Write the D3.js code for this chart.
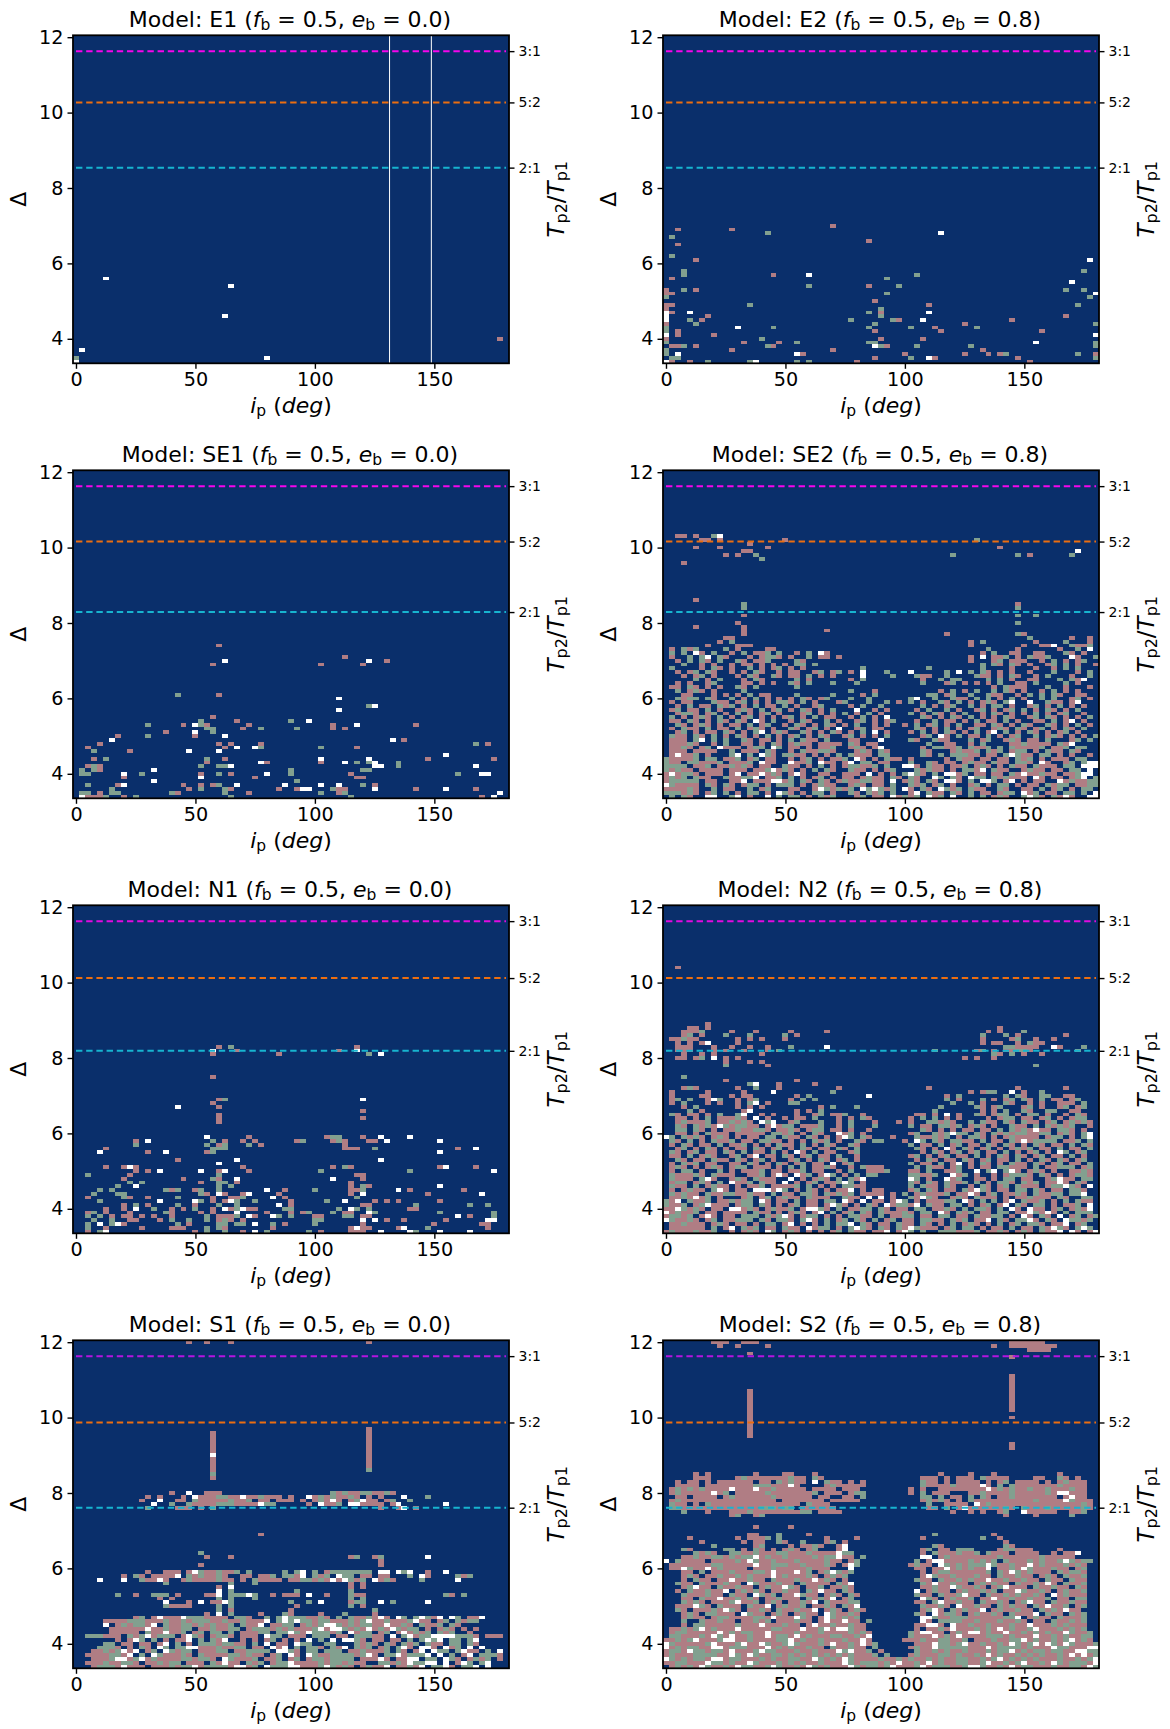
<!DOCTYPE html>
<html>
<head>
<meta charset="utf-8">
<script src="https://cdn.jsdelivr.net/npm/d3@7"></script>
<style>
  html, body { margin: 0; padding: 0; background: #fff; }
  svg { display: block; }
  text { font-family: "DejaVu Sans", sans-serif; fill: #000; }
</style>
</head>
<body>
<script>
// every cell sits on a 2.5 deg x 0.1 grid, col 0 = 0 deg, row 0 = 3.4
var ipStep = 2.5, deltaStart = 3.4, deltaStep = 0.1;

var modelNames = ["E1", "E2", "SE1", "SE2", "N1", "N2", "S1", "S2"];
var binaryEcc = ["0.0", "0.8", "0.0", "0.8", "0.0", "0.8", "0.0", "0.8"];
var res3to1 = [11.63, 11.63, 11.63, 11.63, 11.63, 11.63, 11.63, 11.63];
var res5to2 = [10.27, 10.27, 10.16, 10.16, 10.12, 10.12, 9.87, 9.87];
var res2to1 = [8.54, 8.54, 8.29, 8.29, 8.19, 8.19, 7.61, 7.61];
var color3to1 = ["#f505ec", "#f505ec", "#f505ec", "#f505ec", "#e00ae0", "#e00ae0", "#b414e0", "#b414e0"];
var xTicks = [0, 50, 100, 150];
var yTicks = [4, 6, 8, 10, 12];
var kindColor = { p: "#b07d84", g: "#82a08f", w: "#ffffff" };

// sparse panels: "row kind+col kind+col ..."
var cellsE1 = ["22 w5", "20 w26", "12 w25", "6 p71", "3 w1", "1 g0 w32", "0 w0"];
var linesE1 = [131.25, 148.75];

var cellsE2 = [
  "36 p28", "35 p2 p11", "34 g17 w46", "33 g1", "32 p34", "31 p2", "28 g1", "27 p5 w71",
  "24 g3 g70", "23 g3 p18 w24 g42", "22 p1 g37", "21 w68", "20 g24 p34 g39",
  "19 p0 g3 p5 g67 g70", "18 p0 p1 g37 w72", "17 g0 g71", "16 p35", "15 p0 p1 g14 p44 g69",
  "14 p0 g36", "13 w0 p1 w4 g34 p36 w44", "12 w0 p7 g36 p67",
  "11 w0 g4 p6 g31 g38 p39 w43 p58", "10 p0 g5 g35 p50 g72",
  "9 g0 w12 g18 g34 g41 p45 g52", "8 g0 p2 p35 p46 p63", "7 w0 p2 p8 w72", "6 p0 g16 p36 p43",
  "5 g0 p13 p19 g22 g34 g35 w62 g72", "4 p1 p2 g3 p5 g17 p18 w35 g36 p37 g42 g51 g72",
  "3 g0 p11 p28 p53", "2 g0 w2 w22 p23 p40 p50 p54 p56 g57 g69 p72",
  "1 g1 g2 p35 g41 w44 p45 p59 g72", "0 w0 p1 p4 g7 g14 w15 g22 g24 p32 p61"
];

var cellsSE1 = [
  "40 p24", "37 p45", "36 w25 w49 p52", "35 p23 p41 p48", "27 g17 p24", "26 w44", "24 g49 w50", "23 w44",
  "21 p23", "20 g21 p27 g36 w39", "19 g12 p18 w20 g21 p22 p29 p43 w47 p57",
  "18 g22 g23 p28 g31 g37 p43 p45", "17 p15 w20 g23", "16 p7 g12 p20 w25", "15 w6 w53 p55",
  "14 p4 p24 p26 p31 g67 p69", "13 p2 p25 w27 w30 g31 g41 p47", "12 g3 p9 w19 w24", "11 w62",
  "10 p3 g5 g22 p25 w41 w49 p59 p70", "9 p22 w31 p32 p41 w45 g47 g49 w50 g54",
  "8 p2 g3 p4 g21 g24 g25 w26 w50 w51 g54 w67", "7 g1 g3 p4 w13 g36 g48 g49",
  "6 g1 g2 w8 g11 p21 g24 p26 w32 g36 p46 g64 w68 w69", "5 p8 w21 p30 p47 p48", "4 w13 g37",
  "3 g2 p7 w8 p18 p21 p23 g24 w27 w35 w41 w44 g48 p50",
  "2 g6 p19 g21 g25 p26 p34 p37 w38 w39 g43 p44 p45 w50 p57 w62 p67",
  "1 g1 g2 p4 g6 g7 g16 p17 g25 p29 g41 p44 g45 w71",
  "0 w1 p2 p3 p4 g5 p8 g10 g26 g46 p68 w70"
];

var cellsN1 = [
  "49 p24 g26 p47", "48 w23 p27 p44 w47", "47 p23 p34 g49 w51", "41 p23", "35 p24 g25 w48", "34 p23",
  "33 w17 p24", "32 p48", "31 p24", "30 p24 p48", "29 p24",
  "25 w22 p29 p42 g43 g44 p48 w51 w56",
  "24 p10 w12 g23 p25 p28 p30 p37 g38 p43 g44 p45 p49 p50 w52 w61",
  "23 g10 g22 p24 g25 g29 p31 p45", "22 p5 g23 g24 g25 p45 p46 p47 g50 p64 w67",
  "21 w4 p12 w15 p22 g23 w61", "19 p17 w27 w51", "18 w24",
  "17 p5 p8 w9 p10 p28 p43 g45 p46 p61 w62 p67", "16 p10 p12 w14 w21 p24 w25 p29 g41 g56 w70",
  "15 g2 p9 g24 p47 p48", "14 p8 p18 g23 p24 w27 w43 p48", "13 g9 g11 p21 g24 g25 p27 p46",
  "12 g7 w10 g24 g26 p46 g48 p49 w61",
  "11 g4 g6 g15 p16 g17 p20 g21 g24 w32 p35 g40 p46 p47 g48 w54 p56 p65",
  "10 g3 g7 g8 g21 p22 w24 p25 p28 w29 p34 p46 w48 p59 w68",
  "9 p2 g8 p9 p12 g17 p23 p26 p27 g28 w33 p35 g47",
  "8 g4 w14 w20 g21 p23 p25 w26 g27 g30 p36 g42 w45 p50 p52 p54 p61",
  "7 p8 g10 p12 g17 p20 g24 g27 w34 p36 p48 p49 g57 g66 g69",
  "6 p5 p8 w10 g13 p16 p18 g20 p23 w25 p26 g27 w28 p29 p30 g35 g36 g44 w46 g47 g49 p56 p57",
  "5 p2 g3 p5 p9 g15 p16 p21 p23 w27 p32 p36 p38 g39 g43 p45 p46 w49 g50 g61 g70",
  "4 g2 g4 p6 p8 p9 p11 p13 p16 g22 p24 p25 p26 g27 w29 p30 w33 g34 g36 p40 p41 g45 g46 p48 p49 w64 p66 g70",
  "3 g3 g6 p9 p10 p14 g16 g19 g22 p24 g25 p26 p28 g40 g41 w48 w50 p52 p55 p62 w69 w70",
  "2 g2 w4 g6 w7 p8 g17 p19 g24 g25 g27 g28 w30 g33 p35 g40 p48 p60 p68 p69",
  "1 g2 p5 p11 p16 p17 p18 g22 g24 p25 p33 p46 w47 p48 p49 p54 w55 g59 p69",
  "0 p2 g4 w5 p20 g22 g25 p28 w30 g32 g39 p41 p46 p47 p48 w51 w56 g57 w61 w66"
];

// upper parts of the dense panels
var cellsSE2Top = [
  "69 p2 p3 p5 g8 w9", "68 p6 p7 p9 p20 g52", "67 p14", "66 p5 p9 p17 p56", "65 p13 p14 w69",
  "64 p10 p12 g15 g48 g59 p61 g68", "63 g16", "62 p3", "52 p5", "51 g13 p59", "50 g13 g59",
  "48 p13 g59 g62", "46 p12 g59", "45 p5 p13", "44 p13 p27", "43 p13 p47 g59 p60",
  "42 p10 p11 g61 p68 p71", "41 p9 g11 p51 g53 p62 g67 p71",
  "40 p7 p12 p13 p14 p51 p60 p63 p64 w65 g68 p69 p70 g71",
  "39 p1 g3 p4 g5 g10 p12 p17 p18 g54 p59 p66 g69 w71"
];
var cellsN2Top = [
  "70 p2", "55 p7", "54 p4 p5 p7 p56", "53 p3 p4 p5 g6 p11 p15 p21 p27 p54 p56 g60",
  "52 p3 g4 p6 g10 g14 g20 p22 g53 g57 p59 p67",
  "51 p1 p2 g3 p4 p5 p12 p14 p16 p20 p53 p58 g59 p62 p65",
  "50 p2 p4 p6 w7 p12 p53 p55 p56 p59 g61 p62 p63",
  "49 p2 p3 p4 p8 p11 p14 p17 g21 w27 g57 g58 p59 p60 p61 p62 w65 p66 g70",
  "48 p2 p3 p4 p8 p10 p13 p17 g19 g45 p52 g53 p55 p57 p58 g59 g60 p61 g69",
  "47 p3 p6 p8 p16 g55 p56 g58 p60 p63", "46 p2 p3 p5 g6 w8 p10 p12 p50 p52 p55",
  "45 p10 p14 p16", "44 g10 p17 g62", "41 g3", "40 p10 p22", "39 g14 w15 p19 p25",
  "38 p3 g4 p5 p12 g15 p19 p29 p44 p59 p67", "37 p1 p7 p13 w18 g28 p51 p53 g54 g55 w58 p60 g63",
  "36 p1 p6 p7 p11 p13 p14 p22 g24 w34 p47 g49 g57 g59 p60 g63 g64 p67 p68"
];
var cellsS1Top = [
  "86 p19 p22 p26 p49",
  "63 p49", "62 p23 p49", "61 p23 p49", "60 p23 p49", "59 p23 p49", "58 p23 p49", "57 p23 p49",
  "56 w23 p49", "55 p23 p49", "54 p23 p49", "53 p23 p49", "52 p23 g49", "51 g23", "50 p23",
  "46 p16 w19 p22 p23 p24 g43 p44 g45 p46 p47 g48 g49 p50 p51 g52 p53",
  "45 p12 p14 p18 w20 p21 p22 p23 g24 g25 p26 p27 w28 p29 p30 g31 p32 p33 p34 p36 w39 p40 g41 p42 g43 p44 p45 g46 p47 p49 p51 w55 g59",
  "44 p11 w14 p17 p18 g20 p21 p22 p23 p24 p25 g26 p27 p28 g29 p31 p32 p34 p35 p36 p38 p40 g41 p42 w43 p44 p46 g47 w48 p49 p50 p52 g53 g56",
  "43 w13 g16 g19 p20 p21 p22 p23 g24 g25 g26 p27 p28 p29 p30 w31 g32 g33 p39 w41 p42 p43 g44 w46 w47 p48 p49 p50 p51 p53 w54 w62",
  "42 g12 p17 p18 p19 p21 g23 p51 p54 w55 p57",
  "35 p31", "30 g21", "29 p22 p26 p46 g47 p50 g51 w59", "28 p51", "27 p21 p51",
  "25 p12 p15 p16 p17 p19 w20 g21 p22 p23 g24 p25 p26 g27 g29 g35 g37 w38 g40 p42 g43 g44 g45 g46 g47 g48 g49 w51 w52 w54 g55 w56 p59 w62",
  "24 p8 g10 p11 p13 p14 p15 p16 w17 g19 p20 g21 p22 p23 g24 p25 p28 p29 p31 p32 g33 g35 g36 p37 w38 g40 p41 g42 w44 g45 g46 p48 p49 p51 p52 g56 w58 p59 g64 p65 g66",
  "23 w4 w8 g11 p12 p13 w14 p15 p18 g19 p20 p21 p22 p23 g24 p25 p26 p28 g30 p31 p32 p33 p34 p36 p37 g38 g39 p40 g41 p42 w43 p44 w45 g46 p47 g48 w50 p51 g52 p53 g58 w64",
  "22 g15 g26 g30 p46 p48", "21 p24 w26 p46 p48", "20 w24 g26 g37 g46",
  "19 g7 p10 g13 g14 g15 p17 p22 p23 w24 g26 g27 g28 w29 g30 p33 p35 p36 p37 w39 p42 g46 p47 p48 g62 p63 g65",
  "18 p14 p16 g24 g26 g30 g46 g48", "17 w15 p19 w21 p23 p24 w25 g26 g36 g39 w41 p46 g47 g48 w51 g53 w59",
  "16 g15 p16 p17 p18 p19 g24 g26 p37 g46 p48", "15 g24 p26 p36 g50",
  "14 p22 w24 g26 p31 g35 p36 p41 g45 p50"
];
var cellsS2Top = [
  "86 p8 p9 p10 p13 p14 p15 p58 p59 p60 p61 p62 p63", "85 p9 p12 p17 p55 p58 p59 p60 p61 p62 p63 p64 p65",
  "84 p61 p62 p63 p64", "83 p14", "82 p58",
  "77 p58", "76 p58", "75 p58", "74 p58", "73 p14 p58", "72 p14 p58", "71 p14 p58", "70 p14 p58", "69 p14 p58",
  "68 p14 p58", "67 p14", "66 p14 p58", "65 p14", "64 p14", "63 p14", "62 p14", "61 p14", "59 p58", "58 p58"
];

// dense rows, top row first, spaces only group the columns by ten
var rowsSE2Top = 38;
var rowsSE2 = [
  ".g.g.wp.g. .p.g.ppg.g ..p.g.wp.. .......... .......... ...p.g..pp ..pp...gp. p..",
  ".p..g.gw.g p...p.pggp .p..g.pp.p .......... .......... .p.w.ppg.p .gppg...wp ..g",
  "..p.g.gp.g ..gp.ppg.. ..gp...... .......... .......... .p...pg.pp p..p.g.p.p g..",
  "...g..p.p. .p.pp.p.p. p.gg.g.... .......... .......... ...g.gp.gp .p..pg.g.p ..p",
  ".g....p.gp .p..g.p.pg .p.p...... ...g...... ....g..... ...g....p. ..p..p.g.g ...",
  "..p.pg.gp. .p.p.gp..p .pp..pg.pg .p.w...g.. .w.....g.w .g.gp.p.p. .p...g...p .g.",
  "...p.pg.p. ..p.gp..gp .pp.g.p.p. ...w....g. ..gpp..g.. ..gpp.p.gp ..p.g...p. .g.",
  ".....g.p.g ...p.gp... ..g.p..... .p.g...... ...p..g.gg ....g.g.p. .pp...g.gp w..",
  "..p.p..pg. ...pp.p.p. .gp.g...g. ..g....... ...g...pg. p.p.p.g..p p.g....g.p ...",
  ".pp.gp.p.p ..gp.g.... ..g....... .......... .......... .....p.gpp p...g..p.. .p.",
  "..g.pgp.p. ...g...... .......... .g...p.... ......p.g. p.g..g.gp. p..p.g.p.p ...",
  "...pp...p. p.p.g.pp.. ..g.....g. ...p.g.... ....gg.pg. .g..gpp..p .g.g.gp..p p..",
  "..gpgg.gp. .g.p.g.p.p .p.gp.pg.. .g..g..... .gw..g..gp p.g.g.p.g. p..g.g..pg .p.",
  ".p.pp...gp p.pg.p.p.g gp.g.p...p g...g..g.p .g.p..gp.g .p.pgp.gw. .w..gpp.pw ...",
  "..p.g.pp.g pg.p.g.pp. g.p..pg... .p.g..g... ...g.p.pg. .g.p.gg.p. .pg.p.g.p. p..",
  ".pg.pp.g.p ..pgp.g.pg .p.gp.p.g. ..w..p.p.. ..p.g..g.p ..pg.p.pg. g.p.gp.p.g ...",
  "..pggp.pg. p.g.p.pg.p ...pg.p.p. g.p.g.p... .g.p.gp.p. g..p.gp.p. p.g.p.pg.. p..",
  ".g.p.pgp.g .p.pg.p.p. pg.p.g.pp. .p.g.p.w.. ...gp.p.gp .g.p.p.gp. .pg.gp.p.p .g.",
  ".pp.gp.p.g p.gp.wp.g. .p.gp..g.p ..pg.p.pg. ..p..g.pp. p.g.pp.g.p ..pp.g.pw. p..",
  "..gp.pgp.p .pp.g.pg.. p.gp.p.gp. p.g..p.p.. p.g.pg.p.g ..pp.gp.p. gp..gp.p.g .p.",
  ".p.gpp.g.p p.g.pgp.p. .gp.pg.p.w ..pg.pp... ..gp.p.g.p .pg..pgp.g p.pg.p.gp. g..",
  "..pg.p.pp. gp.p.gw.pg p..gp.p.gp .p.g.w.p.. .p.g.p.gp. p.g.pw.g.p .gp.p.pg.p ...",
  ".gpp.gp.g. p.gp.p.g.p .pg.p.gp.. pg.p.p.g.. ...pg.wp.g .pp.g.p.pg ..g.pgp.p. p.g",
  ".ppp.gw.g. g..gp.pp.p .g.gpp.g.. .pp...w... .gp..gpp.. .g.pg..pgp .pp.g...pg .g.",
  ".pppgp..p. g..pp.p.gp .pgpp.pppp .gp.pp.... ....g..pp. .p.g....pp gpppp.gpw. ...",
  ".ppgp.pg.w ppp.pgg.wg .pp.p.ppg. .pgp.pw... ...p.ggppg .gppg.g.gp pppg.ppg.g g..",
  ".ppp.pppp. .g.ppp.gp. .p.gppggp. ..pgp.gp.. ...gp...pg ppg.gpg.pg g.p.gpp.gp ...",
  ".pwppg.p.. .gw.g.wgp. ggpp.p.p.g .gppp.gg.. ...gp.g.gg gpp.pp.gwg pp.gg.p.p. .p.",
  "gppppg.gg. ppg.pg.pp. .p.pg.p.pp g.wp.p.gpp .p.....p.g pp.pp.pp.g pg.p.ppp.g g..",
  "gpp.ggpppg .pppg.wpp. .wppg.wpp. pw.gg.pp.. .g..gp.pp. pgpp.gpp.g gp.wp..pg. gww",
  "gggg.ppg.p pgpgp.pp.. gpp.p.g.p. pggppg.g.. wwp.gpp.pp g.pgp.p.gp p.gppp.gg. www",
  "gpgpp.pppp .ppp.ppgwp gp.p.g.gp. .gpp.p.pg. ..gpgpp.p. ggpw.gpp.. pgpp.pp.gg .w.",
  "pwpggp.ppp .pw.ppwpgp .pwp..pp.. ppp.w.p.p. gwgp.g.wwp g.pp.pp.gp wppgpp.ppg ww.",
  "pgpg.gpp.. gppggw.ppg .g.p.pg.p. pp.pgpp.gp .gp..wg.gp .wgg.gpgpp p.wp.pp.pg w.g",
  "pggggg.pp. .ppw.pppww pg.gp.gp.p gppggpp.w. pgp.gp.wwp .g.wwg.pw. p.pp..wpgp pgg",
  "wgpppp.gp. gp.pgg.p.g gg.p.pgpp. .pgp.pp.g. .gpg.pg.p. .pg.p.gg.p .pp.gpgg.p pgg",
  "ppppgp..g. pp..g.pg.. .pp..pwgpg pg.wgwgpg. wp.gp.wgpg .gpp..gp.. pp.g.pg.p. gg.",
  "gggpgp.pg. g.p.gg.p.w gp.p.gg.p. .gp.gpg.g. .pw.gpp.gp .g.pp.pgg. wpg.pp.gg. g.w",
  ".g.gp..ww. .gw.p..w.g .gg.p.gpg. ..pg.pp.wp gpg.wpg.w. .g.g.pgp.. gwgp.gpwp. .ww"
];

var rowsN2Top = 35;
var rowsN2 = [
  ".pg.g..pwg ..p.pg.... .p.g.g.... .......... .......g.p ...g.p.pg. gp.g.pp.pg ...",
  ".p.g...p.p ..p.gw.p.. .gg....... .......... ........g. .g.p...gp. .p.p..ppp. g..",
  "...p.g.... ..p.p.p... ......p.g. ..g....... ......g... ..gp.pg... pg.p..pg.p g..",
  "....g.p... ...pw..... ..p.p.g... .......... .....g.... ...p.p.g.. gp..gg..pp ...",
  ".gp.pp.p.g ..gw..p.p. ..p..pg.pp g..p...... ..pp.p.w.p ..gp.pgg.p .gg.p..p.g p..",
  "..pp.p.g.p ppgp.w.p.. p.pp.g...p .p.gp..... .p.g.g.p.p ....p.pgg. pp.pg.p.pg g..",
  "..pgpppg.p pgpgp.wgw. .pg...g..p .g...p...p .p..ggpgp. .g.gpp.gp. gpp.pg.pgp gp.",
  "..gp.gpgpw gpggpp.pwp gg.pppg..p .g...g.... .g.pp.ggpg .pgp.p..gp p.g.gpgpg. .p.",
  "..gg.gp.p. ppgppggp.p pgp.pgg.pp .p..p..... ...gp.p.p. pp.pp.g.gp gpwpp.ggp. p..",
  "..pp.p.gpp p.ppppp.gg pg.p.gp..w pg.p...... .pg..gpgwg g.gp.gpgpg gppgg.pgp. gw.",
  "wg.gpgp.pg p.p.pp.gg. gpp.gp.p.p wg.gp...p. ..gppgpg.p .ggp.p.pgp ppp.pgg.p. gw.",
  ".gp.g.p.gp pg.pp.ggpp .p.p.gpg.p ..gp.gg... p.wg.gp.gg pp.g.pp.gp wpgggg.ppg .g.",
  ".p.gp.pp.g .ppg.p.p.g pp.g.p.gp. .gp....... .g.pp.g.pg .pp.gp.gp. p.gp.pp.g. gp.",
  "..pg.p.gp. p.pp.gp.pg .p.gp.pp.g p.g....... ..gp.p.wp. gp.pg.p.pg pg.pp.g.pp .g.",
  ".gp.pg.pp. gp.g.pp.g. p.wp.g.pp. .pg....... ...p.gp.pg .pg.pp.g.p .pg.p.wg.p g..",
  ".pp.g.pgp. .pg.pw.pp. gp.pg.pp.g ..p....... .pg.p.pg.p p.g.p.gp.g p.pg.pp.g. p..",
  "..gp.pp.gp p.gp.pg.p. .pg.p.gp.p g.p....... ..p.gp.pp. gp.pg.pp.g .p.gp.gp.p g..",
  ".p.gpg.pp. .pp.gp.p.g p.pg.pp.w. pg........ .g.pp.g.pw .p.gp.p.gp p.gp.pg.pp .g.",
  ".pgp.p.pgp .pgg.ppp.p .g.g.ppgp. .p.gppp... ..g.gpp.pg .p.pp.ggpp p.g.ppggg. pg.",
  ".p.gg.p..g .p.pppg.pp .ppg.pp..p .g..pppg.. .pp.g..ppg ..w.gw.gwp .pgp.p..pp gp.",
  ".gpppgp.gp pp..ppg.pw p.wpg.pwg. p.g.gg.... .ggppg..wp g.p..p.pgg gp.gp.p.pg gp.",
  ".gppp.gwp. .pgp.gppp. .w.p.pgp.g .gpw...... .wg.p..wpg ..pp.p.gg. pp..pgwpp. gg.",
  ".pgg.pgp.g .wppg.gpp. w.p.pg.ppg wg.p...... .gp.gp.gpp g.g.p.ggp. gpg.ppwp.g p..",
  ".gpp.g.pgp p.p.ppg.pp ppg.g.p.p. ggpp...... .g.gpp.gp. .p.gp.pg.g ppp.pggwgp .w.",
  ".p.pgpp.gw p.pp.wwwpw g.p.gp.p.p pw.p.pp... .pg.gp.pp. gpwgp.pp.g g.gp.pp.gg p..",
  ".gpgpp.gpp ggppgpp.g. pp.ggp.gpg pg.pppp.p. g.pgpppg.p pwp.pg.ppg p.gppgg.gg w..",
  ".ppgpwpg.p ...pg.pg.p gpp.gppp.. gpp.w.w.p. .gpwgp..pg p.gppp.p.p pgppp.gp.. gg.",
  "gpw.gppg.p pgpgg.wp.p p.g.pp.gg. wp.w.pp.pw g.p.pppgg. wp.g.g.pw. gppg.p.g.g pp.",
  "gppg.pgwpp p.pgg.gp.p .pg.pp.pwg p.p.gp.wpg gpw.gpp.gg .p.pg.pw.g p.gg.p.ppg .w.",
  "ppwgpgp.pp .wwpgp.pgp pg.pwwgp.g .ppgg.gp.p p.gg.ppgp. g.ggp.g.wp .wpp.pg.pg pw.",
  "wpgppg.pp. pppp.gpp.p .pgp.pw.g. pg.gp.gppp gp.gg.wp.g pg.pp.gg.p pwgpwp.g.g gg.",
  "pggpg.pwp. pp.ggg.gpg wp.pgg.p.p .ggpp.g.pp gg.pp.gg.p p.gppgg.p. wp.gp.w.pg .pg",
  "wgppgp.pg. ppggg.gp.g gp.gwp.g.p g.gp.g.pg. pp.ggpp.gp g.ppw.gp.g gwp.gp.wgg pg.",
  ".ppgppp.pg p.pp.p.gg. pw.p.p.g.g gw.gp.pp.g pp.gp.p.g. pgp.p.g.pg .ggp.ppw.p g..",
  ".pppppp.g. pw.gpg.pp. gpp.wpgg.p .gwgp.gp.g pwgppp.pg. gg.p.pp.g. pp.gpwgp.g wg.",
  "pgpppgppg. .p.pgp.wg. pgp.p.p.pg .gpp.ppw.p wg.g..gggp ppg.ppgp.p gp.gppw.wp .pw"
];

var rowsS1Top = 13;
var rowsS1 = [
  ".......... pg.pwpppwg ggpppp.ggp ..g.gwgggp pgp.g.gppg pwp.wg.gwg pw.wg.ppw. ...",
  ".....ppppg ggpppgppgp gggppgppgp ppw.gwgwgg pggpppgpgw ppgpppgwpp .pg.gpgg.. ...",
  ".....w.pgp ggpw.gppgg pgpgppg.gp pw.ppgg.pg pgwwgpgpgg ppwppgp.gp pg.gp..... ...",
  "......pppp ppwppgppgg .ppgppgg.p gggpgpgppp gwpwwgpgpw pgpwgpgg.p .pgp.p.p.. ...",
  "......pppp p.gppwppg. pg.gg.g.pp pgg.ggwgpw gggpg.wpgg .pg.pwpgpg .gpg..p... ...",
  "..gggppp.g pgwpggg.pw gp.pggp.pp p.wgg.ppp. ggg.pp.ggg pp.w.gwpgg wwwwgggp.p pp.",
  ".......p.p wg.g.p.ppw .g.gpw..p. p.pg.p.p.w .g.w.wwgp. pp.pp.g.gw gw.gg.gw.. ...",
  ".....gg.pp .pp.pw.g.p .gggpggpp. g.w.pp.wgg ..gg...gpg p.gp.gpg.g pp.gg.gp.. ...",
  "....gggp.p .gp.wg.ggw wpppgppgg. pp.wpw.g.g gp.gpw.gpg .pg.gwp.ww p.wpg.w.w. ...",
  "...ppgpgwp w.pg.wgpgg .pppgg.ppg ggg.wwgp.g g.ggg.ppgp ppg.gp.pw. wgg.gwpp.g .w.",
  "..ppppggpw .g.wgpppgp .gppppggpg pp.pg.wp.w gppggggpgw p.ggwpgggw .w.g.pw.gg gp.",
  "...pppgwwp gwpgppppgg pggp.wgppp g.ppg.pg.p ggpgggg.pp pwp.ppww.g g.wgp.pgpg .p.",
  "..pppgppgg p.ppgpgg.p pp.gpwpp.g pg.pggwppp pgpggpgpp. .ggpgpwggw w.w.pwg.gw ...",
  "...pgggpwp pp.pppgpgg wpggggpwwp g.wgggwwpp pgwgpgp.pg ppw.ppgpw. ggwp.ggw.w ..."
];

var rowsS2Top = 51;
var rowsS2 = [
  ".....p.p.. .....p.... pp...p.... .......... ......p... .p...p.... ......p... ...",
  ".....ppp.. ..pgpppppp pgpp.gp... .......... ...ppp.p.p pp.gpppp.. ..pp..gp.p ...",
  "..p.pp.p.p ppppp.pp.g pgpp.w.gpp .p.p...... ...gpp.p.p ppp.p.pg.p ppp.p.pgpp p..",
  "..pppp.ppp pppppgggpp pwp....pgp pppp...... ...gppppgp pppwp.g.gp ppppppgppp p..",
  ".pgpgpgppp pwpppwppgp pppp.pppp. ppp....... .p.p..pppp ppppwpgpgp pgppgpppgp p..",
  ".pgpppppwp g.pppppgpp pppppg.ppp .pgg...... .p.g.ppp.. .ppgppppgp ppppgpwwpp p..",
  "..pp.pppp. pgppppppgp ppppp.pp.. pp.g...... ...gg.g.pp .g.gp.ppgp pppppp.pwp p..",
  ".pgppppppp ppppppppp. ppppppp.pp ppp....... ...pgpgp.p .gpppppppp ppgppppwgp pp.",
  ".gpp.p.gpp pppppppppp ppp.gppp.. .......... ....g..ppp p.wpgppppp pppppppppp gp.",
  ".ggppppppp ppppppgggp gg.pppppp. .......... ....pp.g.p wppppppgp. gpppgppppp gp.",
  "...g...p.. .pppgppppp pppgg.pppp .......... ........p. .p.p..pg.. wppppp..pp g..",
  ".......... .pg..pg... .......... .......... .......... .......p.. ..p.....g. ...",
  ".......... .......... .......... .......... .......... .......... .......... ...",
  ".......... .......... .......... .......... .......... .......... .......... ...",
  ".......... .....p.... .p........ .......... .......... .......... .......... ...",
  ".......... .......... .......... .......... .......... .......... .......... ...",
  ".......... ....pp...g ....p..... .......... .....g.... .....p.... .......... ...",
  "....p..... ..p.pppg.g .......p.. ..p....... ...p...... ...g..p... .......... ...",
  "......p... ...p.pp..g p..g...pg. p......... .......... .......p.. .......... ...",
  "........g. .....pg... .p.ppgp..p w......... .....gp... .......gp. .......... ...",
  "...gp..... gg.p.gp.p. pgp.pg...p w......... ...pg.pp.g gg....pggp pp....p... ...",
  ".....gpgp. .ggppgpppg gpppgppppw gg........ ...p.gpppg ppg.gppp.p ppp..p.ppw ...",
  "...ppgppgg pgpggwpgpp gppppgpggw pp.g...... ...ww.pgpp ppppppgppp pppgppppp. ...",
  "w.gpppp.pp ppgpwgppgp ppgppppgpp .pg....... ..g.pwwppp pgpgpg.gpp pgpgppgwgp gg.",
  ".pppppppgg pppppwppgg gppgpppgp. pwg....... .pgpp.wgpg pgggwgppgp pwpgpppgpg p..",
  ".ppwgppwpg pppp.pppgp ppppgppp.. .w........ ..pp.ppwpg pgppw.ppgp wgpppgpp.p g..",
  "...pp.g.pp pgpppggpwp ppwpg.pgwg pg........ ...p.pggpp ppppg.gpwg pgppp.gpgg p..",
  "...pgp.ppg ppgpgpppwp gpppgp.pgp g......... ...pwgppgp ppgpp.gppg pp.pgp.gpp g..",
  "...p.gpp.p pwppgpp.gp ppgppwpgp. p......... ..gpp.gppg pgppwppgpp gpp.gpp.gp p..",
  "..gpp.gppp gpp.wgpppg pp.gpppp.g pw........ ...gpwppgp p.pgpgpp.g ppgpwp.gpp g..",
  "...pgwpp.g ppgpp.pgpp wgp.ppg.pp gp........ ...ppgppwg ppgp.pgwpp p.gppgpp.g p..",
  "..p.gppgpp w.pgpgp.pp gpp.gpwpp. gp........ ..w.pgpp.p gppgpg.ppw gppgp.pgpp g..",
  "...gpppgpp .gpp.wgpg. ppwgpp.pgp .gp....... ..gpp.gppg wpp.gppgpg ppgp.wpgpp p..",
  "...pp.gppw ppgpgp.ppg ppp.gpgpw. pg........ ...wgp.pgp pg.ppwppgp pgppg.pp.g g..",
  "...gpgp.pp pgwppg.pgp .ppgpw.gpp pgg....... ..pp.gwppg pp.gppgp.p gwpp.gppgp p..",
  "..pppwgp.g ppp.gppw.p gppg.ppgp. gpw....... ...gppgp.w ppgpp.gpgp p.gpwppg.p g..",
  "..gp.pppgp wgp.ppgp.g ppgppw.pgp .pgp...... ...pgwp.gp gppw.pgppg pp.gpgpwpp ...",
  "...pgp.ggp pp.wgpp.pg p.pgpp.wgp pgp....... ..gp.wpggp .pgppgp.gp ppw.gpp.gp g..",
  "...pgpp.pg gppppggpwp ppwgp.pwgp gpg....... ...wwgppgg gppppppggw .pgpp.gppp g..",
  "...g..gppg pp.ppgpg.p ppgpp.pwpp wpp.g..... ...wp.gggg ppgpppgppg p.pp.gppgp g..",
  "...p.ggppp ppgpppwppp gpp.pwppgp pgpp...... ..ppwwp.wp pgppgpppgp pwpppgpgpp p..",
  ".ppgpgwpgp ppwpppppgg pppwppgwpw wgpp...... ..p.ppgpwp ppgpgpwpgp pgwpppgpgp g..",
  ".pggpppppw pgpggppwpp ppgpppgppp pgpgp..... .gpwwpp.pg pwwpgppwpp gpgpgppwgp pg.",
  ".ggpppgpwg pwppgppwpg gpwpgpppgg ppgpw..... .gpppwpgpw ppppgggpgp ppwppgpgpp gg.",
  "ppgpgwpppg wwppgppppg gwpgppgppp gppwp..... pppgppggpp g.pppgppgg wpgppgpgwp gp.",
  "wgpppppgwp ppgwppwgpp gwgpppgpwp pgpwpg.... ..pppwggpg wppgppgpwg pgwpwgpwgp ppg",
  "wpgpggppww pgggpppwpg pgppgpp.gp pgpp.g.... .pgppwgggg gpppwpgggg pgpppwggpp pww",
  "pggpwggpgg pwpppgwggp ppgppgpppw gwppg.p... ..gppgpgpp gpppgpggwp gpggpggppw wgg",
  "pgpppggggp pwgpwgppgg pgpgpgpgpg pgpppg.g.. .pgpppggpg ppgpwpgppg pgpgppgpwp wpg",
  "wgpgpggpww pggpppgpgp pggppwgpgp wgppppgppg pgppgpgppg gppgpgwpgp gpgpppgppg pgw",
  "ppggpppwgg pgppwgpppg pgpgppgppp wgpgggpgpw ppgpwpgppg gppgwppgpg wppgpwgpgg gpw",
  ".pgpgpwgpp gpwggppgwg ppgpwgpgpp pwgpggpgwp ppgwpgggpp gwwgppgpwp ggpppgppgg pwg"
];

// turns "row kind+col ..." entries and dense rows into {ip, delta, kind}
function fromList(list) {
  var out = [];
  list.forEach(function (line) {
    var parts = line.split(" ");
    var row = +parts[0];
    parts.slice(1).forEach(function (p) {
      out.push({ ip: +p.slice(1) * ipStep, delta: deltaStart + row * deltaStep, kind: p[0] });
    });
  });
  return out;
}
function fromRows(rows, topRow) {
  var out = [];
  rows.forEach(function (line, i) {
    line.replace(/ /g, "").split("").forEach(function (ch, col) {
      if (kindColor[ch]) {
        out.push({ ip: col * ipStep, delta: deltaStart + (topRow - i) * deltaStep, kind: ch });
      }
    });
  });
  return out;
}

var panelCells = [
  fromList(cellsE1),
  fromList(cellsE2),
  fromList(cellsSE1),
  fromList(cellsSE2Top).concat(fromRows(rowsSE2, rowsSE2Top)),
  fromList(cellsN1),
  fromList(cellsN2Top).concat(fromRows(rowsN2, rowsN2Top)),
  fromList(cellsS1Top).concat(fromRows(rowsS1, rowsS1Top)),
  fromList(cellsS2Top).concat(fromRows(rowsS2, rowsS2Top))
];

var width = 436, height = 328;
var lefts = [73, 663], firstTop = 35.3, rowGap = 435;

var svg = d3.select("body").append("svg")
  .attr("width", 1170)
  .attr("height", 1729);

var x = d3.scaleLinear().domain([-1.25, 181.25]).range([0, width]);
var y = d3.scaleLinear().domain([3.35, 12.05]).range([height, 0]);

modelNames.forEach(function (name, i) {
  var g = svg.append("g")
    .attr("transform", "translate(" + lefts[i % 2] + "," + (firstTop + rowGap * Math.floor(i / 2)) + ")");

  g.append("rect")
    .attr("width", width)
    .attr("height", height)
    .attr("fill", "#0a2f6b");

  g.selectAll(".cell")
    .data(panelCells[i])
    .enter().append("rect")
    .attr("class", "cell")
    .attr("x", function (d) { return x(d.ip - ipStep / 2); })
    .attr("y", function (d) { return y(d.delta + deltaStep / 2); })
    .attr("width", x(ipStep) - x(0))
    .attr("height", y(0) - y(deltaStep))
    .attr("fill", function (d) { return kindColor[d.kind]; })
    .attr("shape-rendering", "crispEdges");

  if (i === 0) {
    g.selectAll(".gapline")
      .data(linesE1)
      .enter().append("line")
      .attr("x1", x).attr("x2", x)
      .attr("y1", 0).attr("y2", height)
      .attr("stroke", "#fff")
      .attr("stroke-width", 1);
  }

  var resonances = [
    { value: res3to1[i], label: "3:1", color: color3to1[i] },
    { value: res5to2[i], label: "5:2", color: "#ec6e10" },
    { value: res2to1[i], label: "2:1", color: "#17b4cf" }
  ];

  g.selectAll(".res")
    .data(resonances)
    .enter().append("line")
    .attr("x1", x(0)).attr("x2", x(180))
    .attr("y1", function (d) { return y(d.value); })
    .attr("y2", function (d) { return y(d.value); })
    .attr("stroke", function (d) { return d.color; })
    .attr("stroke-width", 2)
    .attr("stroke-dasharray", "6.4,3.8");

  g.append("rect")
    .attr("width", width)
    .attr("height", height)
    .attr("fill", "none")
    .attr("stroke", "#000")
    .attr("stroke-width", 1.8);

  var xAxis = g.append("g")
    .attr("transform", "translate(0," + height + ")")
    .call(d3.axisBottom(x).tickValues(xTicks).tickSize(5.5).tickPadding(4).tickFormat(d3.format("d")));
  var yAxis = g.append("g")
    .call(d3.axisLeft(y).tickValues(yTicks).tickSize(5.5).tickPadding(4).tickFormat(d3.format("d")));
  var rAxis = g.append("g")
    .attr("transform", "translate(" + width + ",0)")
    .call(d3.axisRight(y)
      .tickValues(resonances.map(function (d) { return d.value; }))
      .tickSize(5.5).tickPadding(4)
      .tickFormat(function (v, k) { return resonances[k].label; }));

  [xAxis, yAxis, rAxis].forEach(function (a) {
    a.select(".domain").remove();
    a.selectAll(".tick line").attr("stroke", "#000").attr("stroke-width", 1.4);
  });
  xAxis.selectAll("text").style("font-size", "19.2px");
  yAxis.selectAll("text").style("font-size", "19.2px");
  rAxis.selectAll("text").style("font-size", "14px");

  // title with the f_b and e_b terms
  var title = g.append("text")
    .attr("x", width / 2 - 1)
    .attr("y", -8)
    .attr("text-anchor", "middle")
    .style("font-size", "22px");
  title.append("tspan").text("Model: " + name + " (");
  title.append("tspan").style("font-style", "italic").text("f");
  title.append("tspan").attr("dy", 3).style("font-size", "15.5px").text("b");
  title.append("tspan").attr("dy", -3).text(" = 0.5, ");
  title.append("tspan").style("font-style", "italic").text("e");
  title.append("tspan").attr("dy", 3).style("font-size", "15.5px").text("b");
  title.append("tspan").attr("dy", -3).text(" = " + binaryEcc[i] + ")");

  var xLabel = g.append("text")
    .attr("x", width / 2)
    .attr("y", height + 50)
    .attr("text-anchor", "middle")
    .style("font-size", "22px");
  xLabel.append("tspan").style("font-style", "italic").text("i");
  xLabel.append("tspan").attr("dy", 3).style("font-size", "15.5px").text("p");
  xLabel.append("tspan").attr("dy", -3).text(" (");
  xLabel.append("tspan").style("font-style", "italic").text("deg");
  xLabel.append("tspan").text(")");

  g.append("text")
    .attr("transform", "translate(-47," + (height / 2) + ") rotate(-90)")
    .attr("text-anchor", "middle")
    .style("font-size", "22px")
    .text("\u0394");

  var rLabel = g.append("text")
    .attr("transform", "translate(" + (width + 55) + "," + (height / 2) + ") rotate(-90)")
    .attr("text-anchor", "middle")
    .style("font-size", "23px");
  rLabel.append("tspan").style("font-style", "italic").text("T");
  rLabel.append("tspan").attr("dy", 3).style("font-size", "16px").text("p2");
  rLabel.append("tspan").attr("dy", -3).text("/");
  rLabel.append("tspan").style("font-style", "italic").text("T");
  rLabel.append("tspan").attr("dy", 3).style("font-size", "16px").text("p1");
});
</script>
</body>
</html>
